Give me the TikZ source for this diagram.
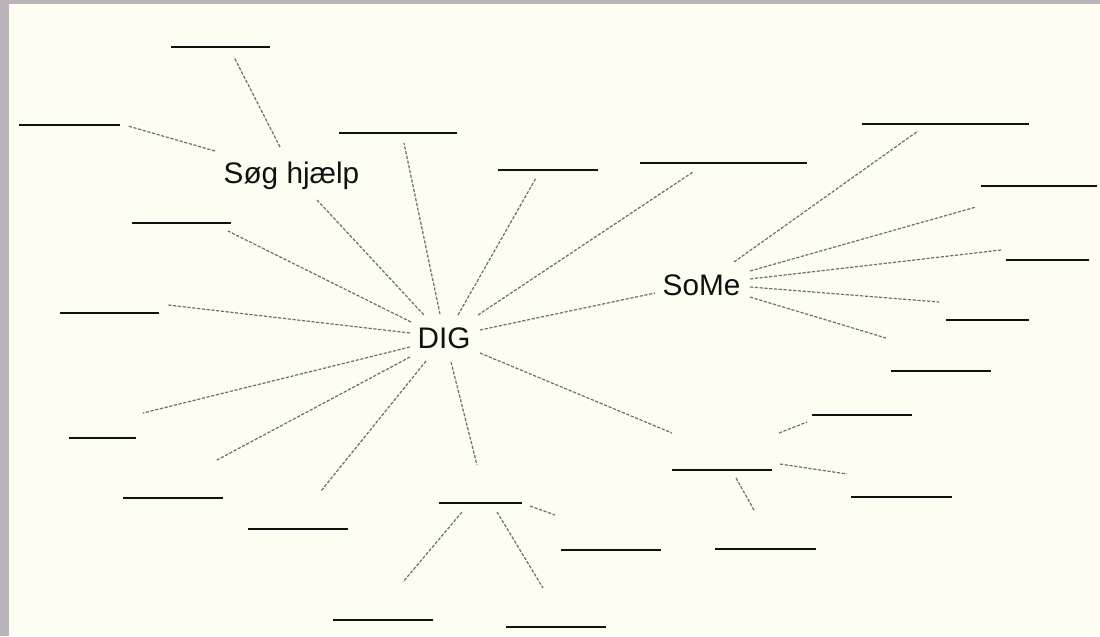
\documentclass[tikz,border=0pt]{standalone}
\usepackage{fontspec}
\setmainfont{Liberation Sans}
\definecolor{bgcream}{HTML}{FDFDF2}
\definecolor{framegray}{HTML}{BBB2BB}
\definecolor{dashgray}{HTML}{6E6E6E}
\definecolor{inkblack}{HTML}{111111}
\tikzset{
  blankline/.style={draw=inkblack, line width=2pt},
  conn/.style={draw=dashgray, line width=0.9pt, dash pattern=on 2.4pt off 1.2pt},
  lbl/.style={inner sep=0pt, anchor=base, text=inkblack, font=\fontsize{22.3}{26}\selectfont},
}
\begin{document}
\begin{tikzpicture}[x=0.75pt,y=-0.75pt]
\useasboundingbox (0,0) rectangle (1100,636);
\fill[framegray] (0,0) rectangle (1100,636);
\fill[bgcream] (9,4) rectangle (1100,636);

% labels
\node[lbl] (sog) at (291.5,183.5) {Søg hjælp};
\node[lbl] (dig) at (444,348) {DIG};
\node[lbl] (some) at (701.5,295) {SoMe};

% blanks
\foreach \xa/\xb/\yy in {171/270/47, 19/120/125, 339/457/133, 132/231/223,
  498/598/170, 640/807/163, 862/1029/124, 981/1097/186, 1006/1089/260,
  946/1029/320, 891/991/371, 812/912/415, 672/772/470, 851/952/497,
  715/816/549, 60/159/313, 69/136/438, 123/223/498, 248/348/529,
  439/522/503, 561/661/550, 333/433/620, 506/606/627}
  \draw[blankline] (\xa,\yy) -- (\xb,\yy);

% connector end points
\coordinate (sa1) at (280,147); \coordinate (sa2) at (234,57);
\coordinate (sb1) at (215,151); \coordinate (sb2) at (128,126);
\coordinate (sc1) at (317,200); \coordinate (sc2) at (424,315);
\coordinate (d1) at (440,314); \coordinate (d2) at (404,143);
\coordinate (e1) at (411,322); \coordinate (e2) at (228,231);
\coordinate (f1) at (410,333); \coordinate (f2) at (168,305);
\coordinate (g1) at (410,347); \coordinate (g2) at (143,413);
\coordinate (h1) at (410,357); \coordinate (h2) at (217,460);
\coordinate (i1) at (426,361); \coordinate (i2) at (321,491);
\coordinate (j1) at (451,362); \coordinate (j2) at (477,465);
\coordinate (k1) at (480,353); \coordinate (k2) at (672,433);
\coordinate (l1) at (458,315); \coordinate (l2) at (536,178);
\coordinate (m1) at (478,315); \coordinate (m2) at (693,172);
\coordinate (n1) at (480,330); \coordinate (n2) at (655,293);
\coordinate (o1) at (734,262); \coordinate (o2) at (918,131);
\coordinate (p1) at (750,271); \coordinate (p2) at (976,207);
\coordinate (q1) at (750,279); \coordinate (q2) at (1001,250);
\coordinate (r1) at (750,287); \coordinate (r2) at (939,302);
\coordinate (s1) at (750,297); \coordinate (s2) at (886,338);
\coordinate (t1) at (779,433); \coordinate (t2) at (807,422);
\coordinate (u1) at (780,464); \coordinate (u2) at (847,474);
\coordinate (v1) at (736,478); \coordinate (v2) at (754,510);
\coordinate (w1) at (530,506); \coordinate (w2) at (555,515);
\coordinate (x1) at (462,512); \coordinate (x2) at (403,582);
\coordinate (y1) at (497,512); \coordinate (y2) at (543,588);

\foreach \c in {sa,sb,sc,d,e,f,g,h,i,j,k,l,m,n,o,p,q,r,s,t,u,v,w,x,y}
  \draw[conn] (\c1) -- (\c2);
\end{tikzpicture}
\end{document}
